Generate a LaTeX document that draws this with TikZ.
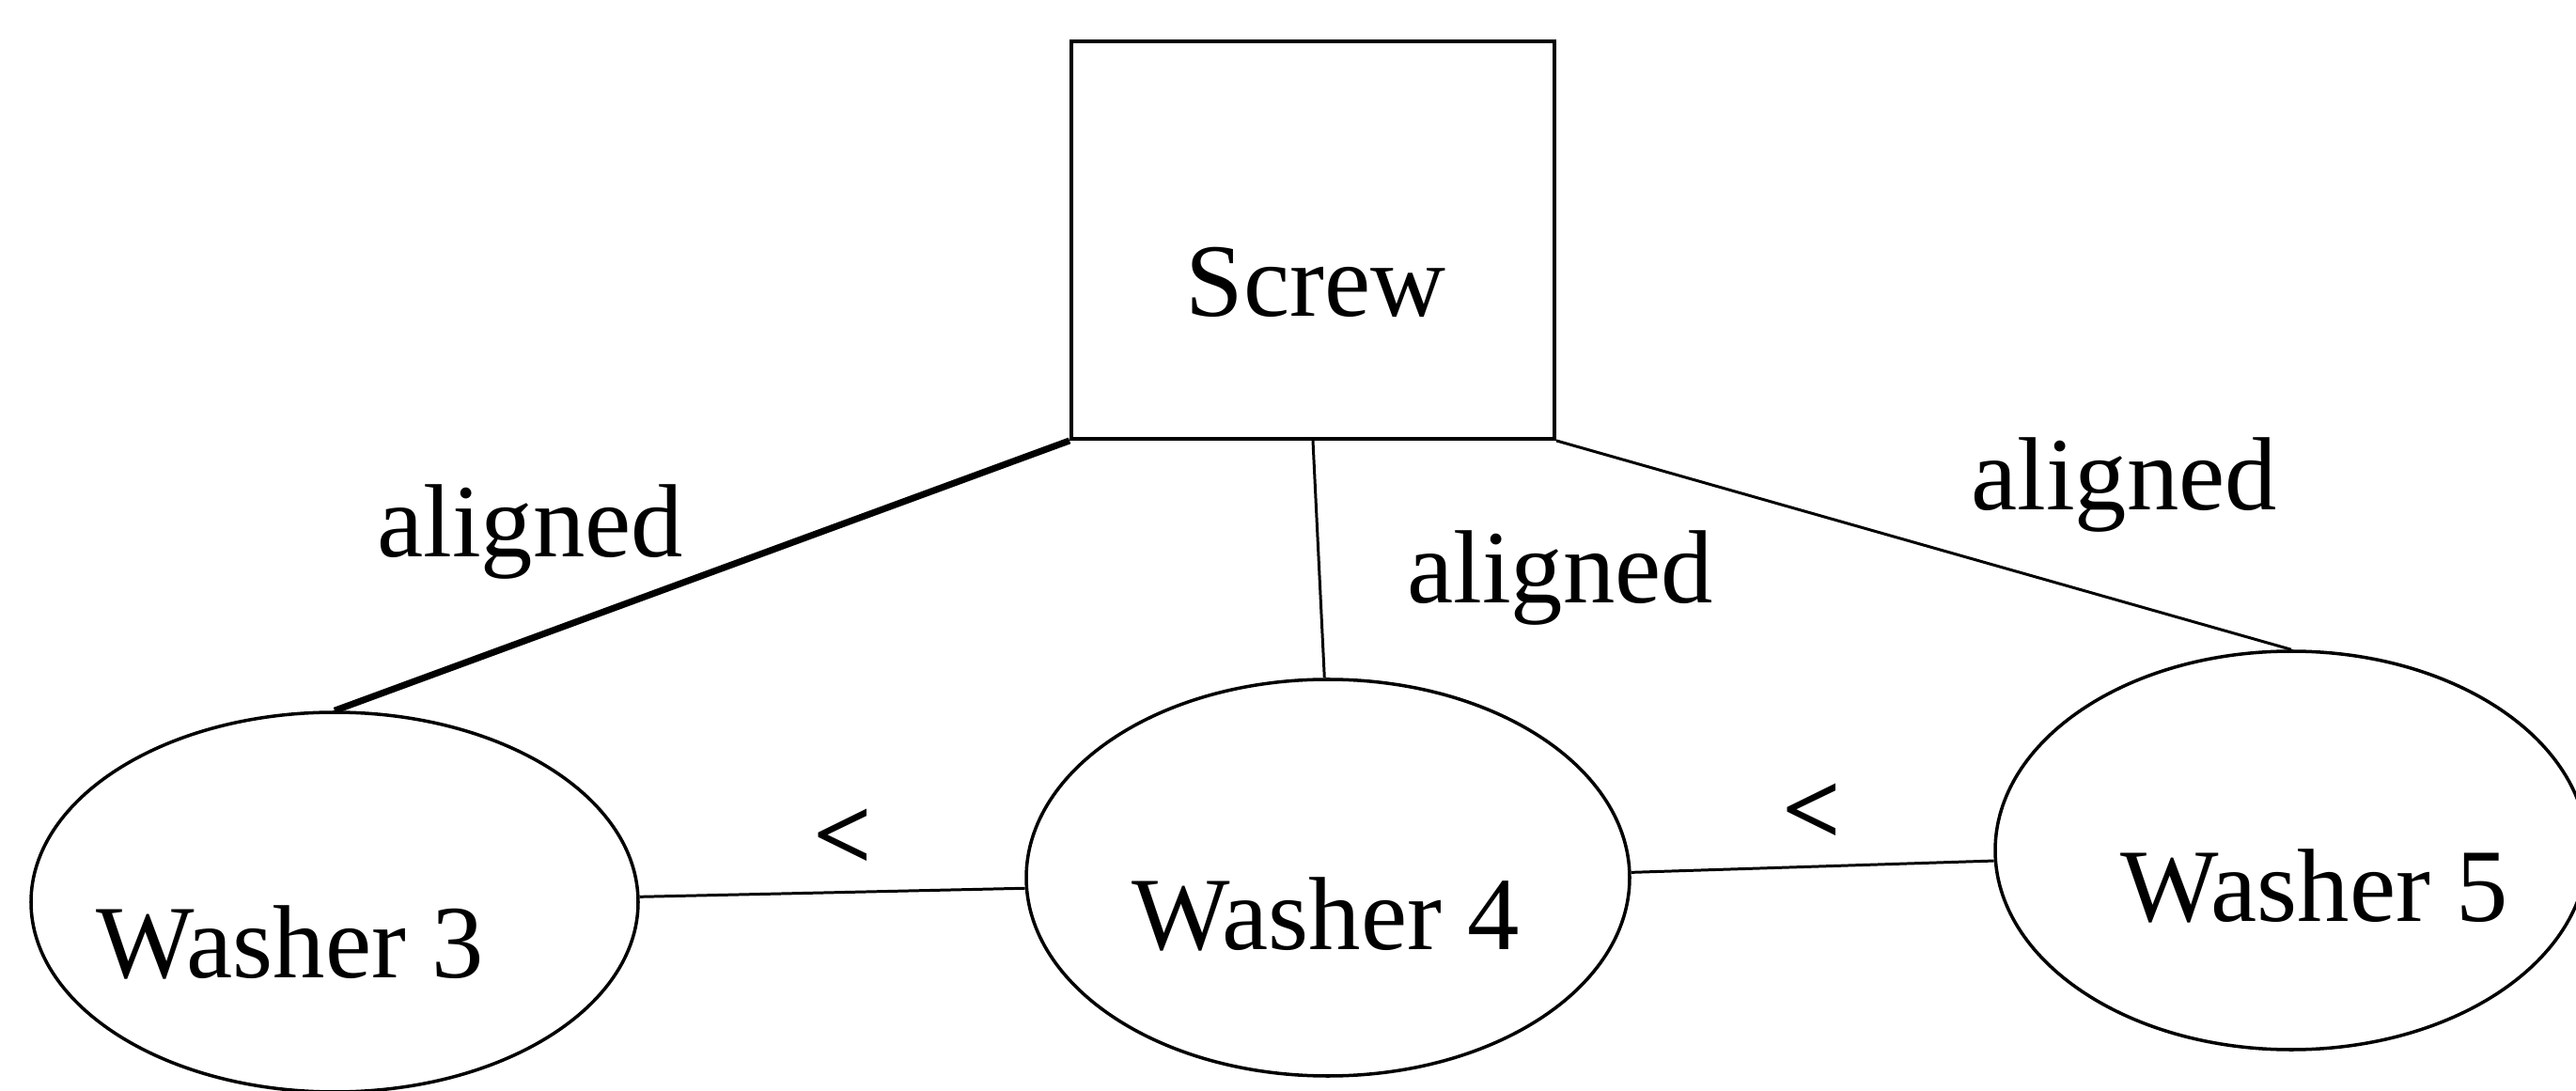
\documentclass[tikz,border=0pt]{standalone}
\usepackage{fontspec}
\setmainfont{Liberation Serif}
\usetikzlibrary{shapes,positioning}

\begin{document}
\begin{tikzpicture}[
    every node/.style={font=\fontsize{31.5pt}{38pt}\selectfont, inner sep=0pt},
    partbox/.style={draw, line width=1.1pt, minimum width=5.14cm, minimum height=4.23cm},
    washer/.style={draw, ellipse, line width=1pt},
    link/.style={line width=0.85pt}
]
    \useasboundingbox (0,0) rectangle (27.41,-11.61);

    % Parts
    \node[partbox] (screw) at (13.97,-2.555) {};
    \node[washer, minimum width=6.46cm, minimum height=4.04cm] (w3) at (3.56,-9.60) {};
    \node[washer, minimum width=6.42cm, minimum height=4.22cm] (w4) at (14.13,-9.34) {};
    \node[washer, minimum width=6.30cm, minimum height=4.24cm] (w5) at (24.38,-9.05) {};

    % Part names
    \node[anchor=base] (screwname) at (14.00,-3.37) {Screw};
    \node[anchor=base] (w3name) at (3.09,-10.40) {Washer 3};
    \node[anchor=base] (w4name) at (14.11,-10.10) {Washer 4};
    \node[anchor=base] (w5name) at (24.63,-9.80) {Washer 5};

    % Relations
    \draw[link, line width=2pt] (screw.south west) -- (w3.north);
    \draw[link] (screw.south) -- (w4.91);
    \draw[link] (screw.south east) -- (w5.north);
    \draw[link] (w3.1) -- (w4.182);
    \draw[link] (w4.1) -- (w5.182);

    % Relation labels
    \node[anchor=base] (al3) at (5.64,-5.93) {aligned};
    \node[anchor=base] (al4) at (16.60,-6.42) {aligned};
    \node[anchor=base] (al5) at (22.60,-5.43) {aligned};
    \node[font=\fontsize{31.5pt}{38pt}\selectfont\bfseries] (lt34) at (8.97,-8.93) {<};
    \node[font=\fontsize{31.5pt}{38pt}\selectfont\bfseries] (lt45) at (19.28,-8.66) {<};
\end{tikzpicture}
\end{document}
